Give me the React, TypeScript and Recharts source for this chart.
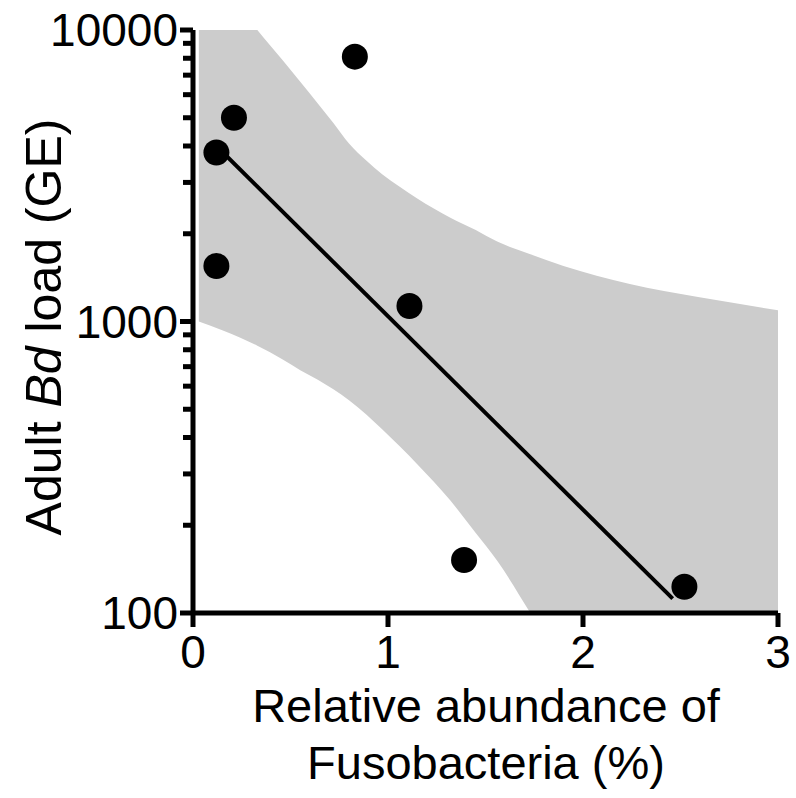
import { ComposedChart, XAxis, YAxis, Scatter, Line, Area, Label } from 'recharts';

// observations
const pointX = [0.12, 0.12, 0.21, 0.83, 1.11, 1.39, 2.52];
const pointY = [3800, 1550, 5000, 8100, 1130, 152, 123];

// fitted line end points
const fitX = [0.12, 2.46];
const fitY = [4000, 112];

// 95% confidence band
const bandX = [0.03, 0.15, 0.24, 0.33, 0.46, 0.55, 0.64, 0.72, 0.8, 0.89, 0.97, 1.06, 1.15, 1.32, 1.45, 1.56, 1.73, 1.9, 2.24, 2.59, 3.0];
const bandLow = [1000, 933, 881, 826, 741, 681, 631, 585, 537, 479, 427, 373, 324, 243, 188, 151, 100, 65, 25, 9, 3];
const bandHigh = [18600, 14400, 11900, 10000, 7870, 6640, 5600, 4800, 4080, 3560, 3200, 2900, 2640, 2270, 2060, 1880, 1700, 1550, 1345, 1213, 1094];

const xTicks = [0, 1, 2, 3];
const yMajor = [100, 1000, 10000];
const yTicks = [100, 200, 300, 400, 500, 600, 700, 800, 900, 1000, 2000, 3000, 4000, 5000, 6000, 7000, 8000, 9000, 10000];

const FONT = "'Liberation Sans', Arial, Helvetica, sans-serif";

const points = pointX.map((x, i) => ({ x, y: pointY[i] }));
const fit = fitX.map((x, i) => ({ x, y: fitY[i] }));
const band = bandX.map((x, i) => ({ x, range: [bandLow[i], bandHigh[i]] }));

function YTick(props: any) {
  const { x, y, payload } = props;
  const major = yMajor.includes(payload.value);
  return (
    <g>
      <line x1={x} x2={x - (major ? 13 : 10)} y1={y} y2={y} stroke="#000" strokeWidth={5} />
      {major && (
        <text x={x - 15} y={y} textAnchor="end" dominantBaseline="central" fontSize={46} fontFamily={FONT} fill="#000">
          {payload.value}
        </text>
      )}
    </g>
  );
}

export default function App() {
  return (
    <div style={{ position: 'absolute', left: 0, top: 0, background: '#fff' }}>
      <ComposedChart width={796} height={798} margin={{ top: 30, right: 18, bottom: 0, left: 0 }}>
        <XAxis
          type="number"
          dataKey="x"
          domain={[0, 3]}
          ticks={xTicks}
          allowDataOverflow
          height={185}
          axisLine={{ stroke: '#000', strokeWidth: 5 }}
          tickLine={{ stroke: '#000', strokeWidth: 5 }}
          tickSize={14}
          tickMargin={8}
          tick={{ fill: '#000', fontSize: 46, fontFamily: FONT }}
        >
          <Label
            content={() => (
              <g fontFamily={FONT} fontSize={47} fill="#000" textAnchor="middle">
                <text x={486} y={705} dominantBaseline="central">Relative abundance of</text>
                <text x={486} y={762} dominantBaseline="central">Fusobacteria (%)</text>
              </g>
            )}
          />
        </XAxis>
        <YAxis
          type="number"
          dataKey="y"
          scale="log"
          domain={[100, 10000]}
          ticks={yTicks}
          allowDataOverflow
          width={193}
          axisLine={{ stroke: '#000', strokeWidth: 5 }}
          tickLine={false}
          tickSize={0}
          tickMargin={0}
          interval={0}
          tick={<YTick />}
        >
          <Label
            content={() => (
              <text
                transform="translate(44,327) rotate(-90)"
                textAnchor="middle"
                dominantBaseline="central"
                fontFamily={FONT}
                fontSize={50}
                fill="#000"
              >
                Adult <tspan fontStyle="italic">Bd</tspan> load (GE)
              </text>
            )}
          />
        </YAxis>
        <Area
          data={band}
          dataKey="range"
          type="monotone"
          fill="#cccccc"
          fillOpacity={1}
          stroke="none"
          isAnimationActive={false}
        />
        <Line data={fit} dataKey="y" stroke="#000" strokeWidth={4} dot={false} isAnimationActive={false} />
        <Scatter
          data={points}
          dataKey="y"
          fill="#000"
          isAnimationActive={false}
          shape={(p: any) => <circle cx={p.cx} cy={p.cy} r={13} fill="#000" />}
        />
      </ComposedChart>
    </div>
  );
}
